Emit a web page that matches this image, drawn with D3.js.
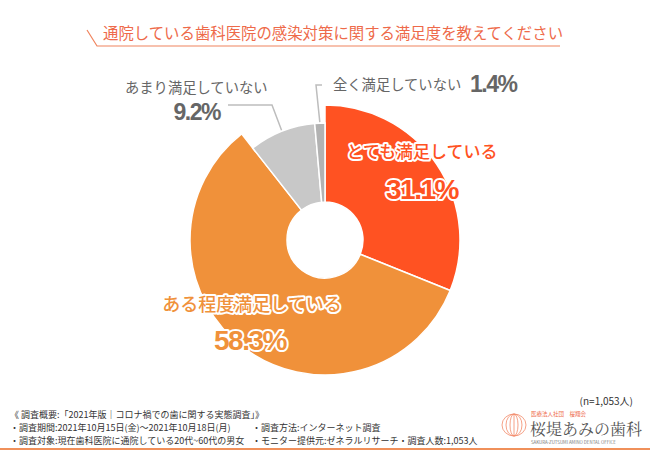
<!DOCTYPE html>
<html>
<head>
<meta charset="utf-8">
<script src="https://cdn.jsdelivr.net/npm/d3@7"></script>
<style>
  body { margin: 0; background: #fff; }
  svg { display: block; font-family: "Noto Sans CJK JP", sans-serif; }
</style>
</head>
<body>
<svg id="chart"></svg>
<script>
// data
const categories = ["とても満足している", "ある程度満足している", "あまり満足していない", "全く満足していない"];
const values = [31.1, 58.3, 9.2, 1.4];
const colors = ["#FF5222", "#F0913A", "#C8C8C8", "#B2B2B2"];
const title = "通院している歯科医院の感染対策に関する満足度を教えてください";
const notes = [
    "《 調査概要:「2021年版｜コロナ禍での歯に関する実態調査」》",
    "・調査期間:2021年10月15日(金)～2021年10月18日(月)",
    "・調査対象:現在歯科医院に通院している20代~60代の男女"
];
const notes2 = ["・調査方法:インターネット調査", "・モニター提供元:ゼネラルリサーチ・調査人数:1,053人"];

const width = 650;
const height = 450;
const cx = 325, cy = 240;

let svg = d3.select("#chart").attr("width", width).attr("height", height);

// title
svg.append("text")
    .attr("x", 103).attr("y", 39)
    .style("font-size", "15.4px")
    .style("fill", "#EE6A4A")
    .text(title);
svg.append("path")
    .attr("d", "M87,30 L97,46 L560,46")
    .attr("fill", "none")
    .attr("stroke", "#F0845E")
    .attr("stroke-width", 1.2);

// donut
const pie = d3.pie().sort(null).value(d => d.value);
const pieData = pie(categories.map((c, i) => ({ name: c, value: values[i], color: colors[i] })));

const outer = i => (i < 2 ? 135 : 117);

const g = svg.append("g").attr("transform", `translate(${cx},${cy})`);
g.selectAll(".slice")
    .data(pieData)
    .enter().append("path")
    .attr("class", "slice")
    .attr("d", (d, i) => d3.arc().innerRadius(38).outerRadius(outer(i))(d))
    .attr("fill", d => d.data.color)
    .attr("stroke", "#fff")
    .attr("stroke-width", 1.5);

// leader lines for the small slices
const leader = (d, i, pts) => {
    const a = (d.startAngle + d.endAngle) / 2;
    const r = outer(i) + 1;
    const start = [Math.sin(a) * r, -Math.cos(a) * r];
    return [start, ...pts];
};
const lineGen = d3.line();
g.append("path")
    .attr("d", lineGen(leader(pieData[2], 2, [[-53, -135], [-97, -135]])))
    .attr("fill", "none").attr("stroke", "#BDBDBD").attr("stroke-width", 1.5);
g.append("path")
    .attr("d", lineGen(leader(pieData[3], 3, [[-9, -155], [-3, -155]])))
    .attr("fill", "none").attr("stroke", "#BDBDBD").attr("stroke-width", 1.5);

// labels
function outlined(x, y, txt, size, fill, weight, family, spacing) {
    svg.append("text")
        .attr("x", x).attr("y", y)
        .attr("text-anchor", "middle")
        .style("font-size", size + "px")
        .style("font-weight", weight || "normal")
        .style("font-family", family || null)
        .style("letter-spacing", spacing || "0px")
        .style("fill", fill)
        .style("stroke", "#fff")
        .style("stroke-width", 4)
        .style("stroke-linejoin", "round")
        .style("paint-order", "stroke")
        .text(txt);
}
const pct = v => v.toFixed(1) + "%";
const numFont = "Liberation Sans, Arial, sans-serif";

outlined(422, 158, categories[0], 17, colors[0], "500");
outlined(422, 199, pct(values[0]), 28, colors[0], "bold", numFont, "-1.5px");
outlined(252, 311, categories[1], 18, colors[1], "500");
outlined(250, 350, pct(values[1]), 28, colors[1], "bold", numFont, "-1.5px");

svg.append("text").attr("x", 125).attr("y", 93)
    .style("font-size", "14.3px").style("fill", "#666").text(categories[2]);
svg.append("text").attr("x", 220).attr("y", 120).attr("text-anchor", "end")
    .style("font-size", "23px").style("font-weight", "bold").style("letter-spacing", "-1.5px")
    .style("fill", "#666").style("font-family", numFont).text(pct(values[2]));
svg.append("text").attr("x", 333).attr("y", 90)
    .style("font-size", "14.3px").style("fill", "#666").text(categories[3]);
svg.append("text").attr("x", 470).attr("y", 92)
    .style("font-size", "23px").style("font-weight", "bold").style("letter-spacing", "-1.5px")
    .style("fill", "#666").style("font-family", numFont).text(pct(values[3]));

// footer
svg.append("text").attr("x", 633).attr("y", 405).attr("text-anchor", "end")
    .style("font-size", "10px").style("fill", "#333").text("(n=1,053人)");
notes.forEach((t, i) => {
    svg.append("text").attr("x", 10).attr("y", 418 + i * 13)
        .style("font-size", "9px").style("fill", "#333").text(t);
});
notes2.forEach((t, i) => {
    svg.append("text").attr("x", 252).attr("y", 431 + i * 13)
        .style("font-size", "9px").style("fill", "#333").text(t);
});
svg.append("rect").attr("x", 0).attr("y", 448).attr("width", width).attr("height", 2).attr("fill", "#F0905A");

// logo
const logo = svg.append("g").attr("transform", "translate(514,425)");
[0, 1, 2].forEach(k => {
    logo.append("ellipse").attr("cx", 0).attr("cy", 0)
        .attr("rx", 4 + k * 4).attr("ry", 11)
        .attr("fill", "none").attr("stroke", "#F28A6A").attr("stroke-width", 0.8);
});
logo.append("line").attr("x1", 0).attr("y1", -11).attr("x2", 0).attr("y2", 11)
    .attr("stroke", "#F28A6A").attr("stroke-width", 0.8);
svg.append("text").attr("x", 531).attr("y", 416)
    .style("font-size", "5.5px").style("fill", "#EE6A4A").text("医療法人社団　桜翔会");
svg.append("text").attr("x", 530).attr("y", 435)
    .style("font-size", "16px").style("fill", "#555").style("font-family", "Noto Serif CJK JP, Noto Sans CJK JP, serif")
    .text("桜堤あみの歯科");
svg.append("text").attr("x", 531).attr("y", 444)
    .style("font-size", "4.4px").style("fill", "#777").text("SAKURA-ZUTSUMI AMINO DENTAL OFFICE");
</script>
</body>
</html>
